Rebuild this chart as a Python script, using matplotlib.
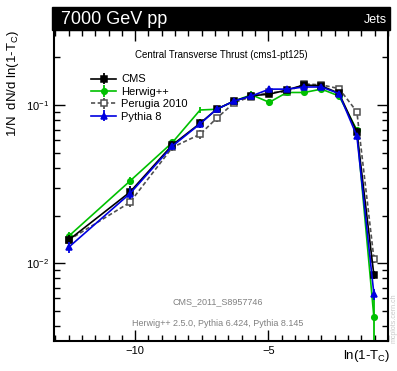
import numpy as np
import matplotlib
matplotlib.use("Agg")
import matplotlib.pyplot as plt
from matplotlib.patches import Rectangle
from matplotlib.ticker import MultipleLocator, LogLocator, NullFormatter

plt.rcParams['font.family'] = ['Liberation Sans', 'DejaVu Sans']
plt.rcParams['mathtext.fontset'] = 'custom'
plt.rcParams['mathtext.rm'] = 'Liberation Sans'
plt.rcParams['mathtext.it'] = 'Liberation Sans'

# bin centres in ln(1-T_C)
lnt = [-12.5, -10.2, -8.6, -7.56, -6.94, -6.28, -5.63, -4.96, -4.30, -3.65, -3.0, -2.34, -1.67, -1.03]

cms     = [0.0140, 0.0281, 0.0560, 0.0766, 0.0940, 0.1060, 0.1145, 0.1170, 0.1245, 0.1340, 0.1320, 0.1185, 0.0678, 0.0084]
herwig  = [0.0148, 0.0330, 0.0580, 0.0930, 0.0940, 0.1060, 0.1160, 0.1040, 0.1200, 0.1200, 0.1260, 0.1140, 0.0695, 0.00456]
perugia = [0.0140, 0.0242, 0.0540, 0.0653, 0.0824, 0.1034, 0.1130, 0.1200, 0.1210, 0.1360, 0.1340, 0.1270, 0.0907, 0.0107]
pythia8 = [0.0126, 0.0275, 0.0550, 0.0760, 0.0940, 0.1060, 0.1140, 0.1260, 0.1260, 0.1300, 0.1300, 0.1180, 0.0637, 0.0064]

# relative uncertainties
cms_rel     = [0.08, 0.09, 0.05, 0.07, 0.04, 0.03, 0.03, 0.04, 0.03, 0.03, 0.03, 0.03, 0.05, 0.06]
herwig_rel  = [0.07, 0.06, 0.04, 0.04, 0.04, 0.04, 0.06, 0.05, 0.04, 0.04, 0.03, 0.03, 0.04, 0.40]
perugia_rel = [0.07, 0.07, 0.05, 0.06, 0.05, 0.04, 0.04, 0.04, 0.04, 0.04, 0.03, 0.03, 0.04, 0.06]
pythia8_rel = [0.08, 0.08, 0.05, 0.05, 0.05, 0.04, 0.04, 0.05, 0.04, 0.04, 0.03, 0.03, 0.05, 0.08]

# herwig has no marker in the -7.56 bin
herwig_marks = [i for i in range(len(lnt)) if i != 3]

series = [
    ('CMS',          cms,     cms_rel,     dict(color='black', ls='-', marker='s', mfc='black')),
    ('Herwig++',     herwig,  herwig_rel,  dict(color='#00c000', ls='-', marker='o', mfc='#00c000',
                                                markevery=herwig_marks)),
    ('Perugia 2010', perugia, perugia_rel, dict(color='#505050', ls=(0, (2.5, 1.5)), marker='s', mfc='white')),
    ('Pythia 8',     pythia8, pythia8_rel, dict(color='#0000e0', ls='-', marker='^', mfc='#0000e0')),
]

fig = plt.figure(figsize=(3.97, 3.71), dpi=100)
ax = fig.add_axes([54/397, 1-341/371, 334/397, 311/371])

x = np.array(lnt)
for z, (name, vals, rel, st) in zip([3, 2, 1, 4], series):
    v = np.array(vals)
    e = v*np.array(rel)
    ax.errorbar(x, v, yerr=e, lw=1.2, elinewidth=1.3, capsize=0, ms=4, mew=1.1,
                mec=st['color'], label=name, zorder=z, **st)

ax.set_yscale('log')
ax.set_xlim(-13.05, -0.5)
ax.set_ylim(0.00322, 0.298)

ax.xaxis.set_major_locator(MultipleLocator(5))
ax.xaxis.set_minor_locator(MultipleLocator(0.5))
ax.yaxis.set_major_locator(LogLocator(base=10))
ax.yaxis.set_minor_locator(LogLocator(base=10, subs=np.arange(2, 10)))
ax.yaxis.set_minor_formatter(NullFormatter())
ax.tick_params(which='both', direction='in', top=True, right=True, width=1, labelsize=8)
ax.tick_params(which='major', length=8)
ax.tick_params(which='minor', length=4)
for s in ax.spines.values():
    s.set_linewidth(1.5)

leg = ax.legend(loc='upper left', bbox_to_anchor=(0.095, 0.875), frameon=False,
                fontsize=8, handlelength=2.2, handletextpad=0.5, labelspacing=0.22,
                borderpad=0)

ax.text(0.5, 0.92, 'Central Transverse Thrust (cms1-pt125)', transform=ax.transAxes,
        ha='center', va='center', fontsize=7)
ax.text(0.49, 0.125, 'CMS_2011_S8957746', transform=ax.transAxes,
        ha='center', va='center', fontsize=6.5, color='#808080')
ax.text(0.49, 0.055, 'Herwig++ 2.5.0, Pythia 6.424, Pythia 8.145', transform=ax.transAxes,
        ha='center', va='center', fontsize=6.5, color='#808080')

# black header bar
fig.patches.append(Rectangle((52/397, 1-30/371), 338/397, 23/371,
                             transform=fig.transFigure, color='black', zorder=0))
fig.text(61/397, 1-19/371, '7000 GeV pp', color='white', fontsize=13,
         ha='left', va='center')
fig.text(387/397, 1-20/371, 'Jets', color='white', fontsize=9,
         ha='right', va='center')

fig.text(13/397, 1-30/371, r'1/N  dN/d ln(1-T$_{\rm C}$)', rotation=90,
         ha='center', va='top', fontsize=9.5)
fig.text(390/397, 1-356/371, r'ln(1-T$_{\rm C}$)', ha='right', va='center', fontsize=9.5)
fig.text(394/397, 1-318/371, 'mcplots.cern.ch', rotation=90, ha='center', va='center',
         fontsize=5, color='#c8c8c8')

fig.savefig('out.png', dpi=100)
